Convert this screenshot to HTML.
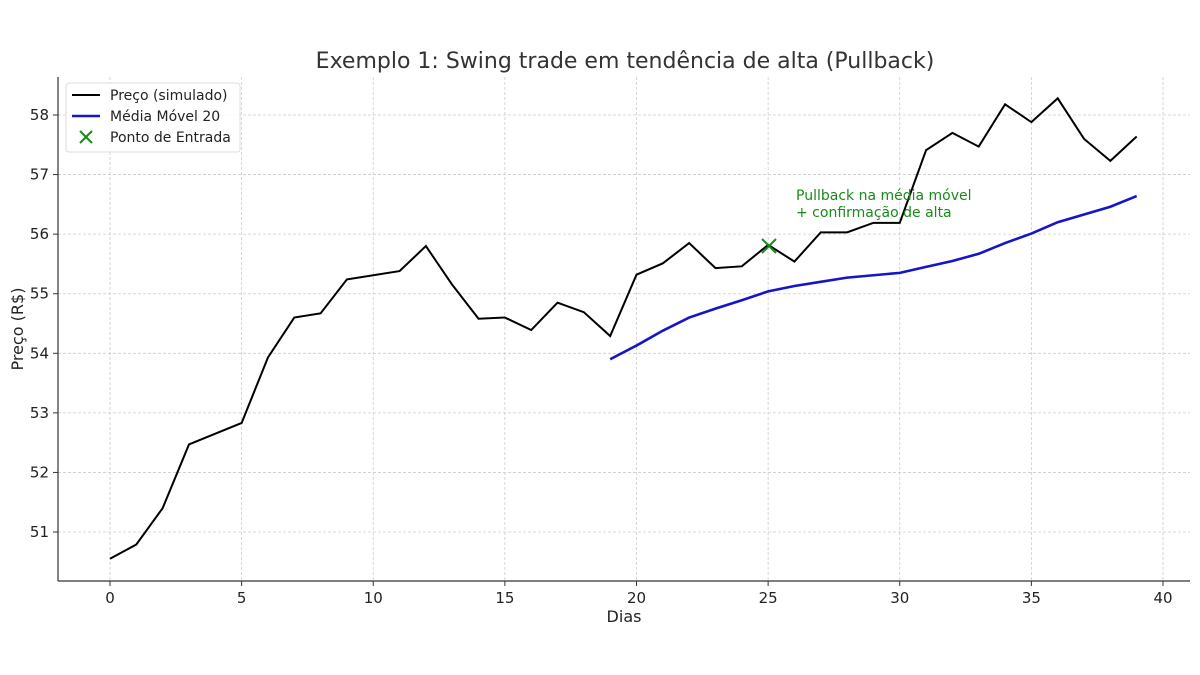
<!DOCTYPE html>
<html><head><meta charset="utf-8"><style>
body{margin:0;background:#fff;}
svg{display:block;font-family:"DejaVu Sans","Liberation Sans",sans-serif;}
</style></head><body>
<svg id="s" width="1200" height="675" xmlns="http://www.w3.org/2000/svg">
<rect width="1200" height="675" fill="#fff"/>
<g id="grid" stroke="#cccccc" stroke-width="0.8" stroke-dasharray="3,2"></g>
<line x1="58" y1="77" x2="58" y2="581" stroke="#333" stroke-width="1.2"/>
<line x1="58" y1="581" x2="1190" y2="581" stroke="#333" stroke-width="1.2"/>
<g id="ticks" font-size="15" fill="#222"></g>
<polyline id="price" fill="none" stroke="#000" stroke-width="2"/>
<polyline id="ma" fill="none" stroke="#1515c8" stroke-width="2.6"/>
<g stroke="#1a8a1a" stroke-width="2"><line x1="762" y1="239" x2="776" y2="253"/><line x1="762" y1="253" x2="776" y2="239"/></g>
<text x="796" y="200" font-size="14" fill="#1a8a1a">Pullback na média móvel</text>
<text x="796" y="217" font-size="14" fill="#1a8a1a">+ confirmação de alta</text>
<text x="625" y="68" font-size="22" fill="#333" text-anchor="middle">Exemplo 1: Swing trade em tendência de alta (Pullback)</text>
<text x="624" y="622" font-size="16" fill="#222" text-anchor="middle">Dias</text>
<text transform="translate(23,329) rotate(-90)" font-size="16" fill="#222" text-anchor="middle">Preço (R$)</text>
<rect x="66" y="83" width="174" height="69" rx="3" fill="#fff" fill-opacity="0.85" stroke="#ddd"/>
<line x1="72" y1="95" x2="100" y2="95" stroke="#000" stroke-width="2"/>
<line x1="72" y1="116" x2="100" y2="116" stroke="#1515c8" stroke-width="2.6"/>
<g stroke="#1a8a1a" stroke-width="2"><line x1="80" y1="131" x2="92" y2="143"/><line x1="80" y1="143" x2="92" y2="131"/></g>
<g font-size="14" fill="#222"><text x="110" y="100">Preço (simulado)</text><text x="110" y="121">Média Móvel 20</text><text x="110" y="142">Ponto de Entrada</text></g>
</svg>
<script>
const X=d=>110+d*26.325, Y=v=>532-(v-51)*59.57;
const p=[50.55,50.79,51.4,52.47,52.65,52.83,53.93,54.6,54.67,55.24,55.31,55.38,55.8,55.15,54.58,54.6,54.39,54.85,54.69,54.29,55.32,55.51,55.85,55.43,55.46,55.82,55.54,56.03,56.03,56.19,56.19,57.41,57.7,57.47,58.18,57.88,58.28,57.6,57.23,57.64];
const m=[53.9,54.13,54.38,54.6,54.75,54.89,55.04,55.13,55.2,55.27,55.31,55.35,55.45,55.55,55.67,55.85,56.01,56.2,56.33,56.46,56.64];
document.getElementById('price').setAttribute('points',p.map((v,i)=>X(i)+','+Y(v)).join(' '));
document.getElementById('ma').setAttribute('points',m.map((v,i)=>X(i+19)+','+Y(v)).join(' '));
let g='',t='';
for(let d=0;d<=40;d+=5){const x=X(d);g+=`<line x1="${x}" y1="77" x2="${x}" y2="581"/>`;t+=`<line x1="${x}" y1="581" x2="${x}" y2="586" stroke="#333"/><text x="${x}" y="603" text-anchor="middle">${d}</text>`;}
for(let v=51;v<=58;v++){const y=Y(v);g+=`<line x1="58" y1="${y}" x2="1190" y2="${y}"/>`;t+=`<line x1="53" y1="${y}" x2="58" y2="${y}" stroke="#333"/><text x="49" y="${y+5}" text-anchor="end">${v}</text>`;}
document.getElementById('grid').innerHTML=g;document.getElementById('ticks').innerHTML=t;
</script>
</body></html>
